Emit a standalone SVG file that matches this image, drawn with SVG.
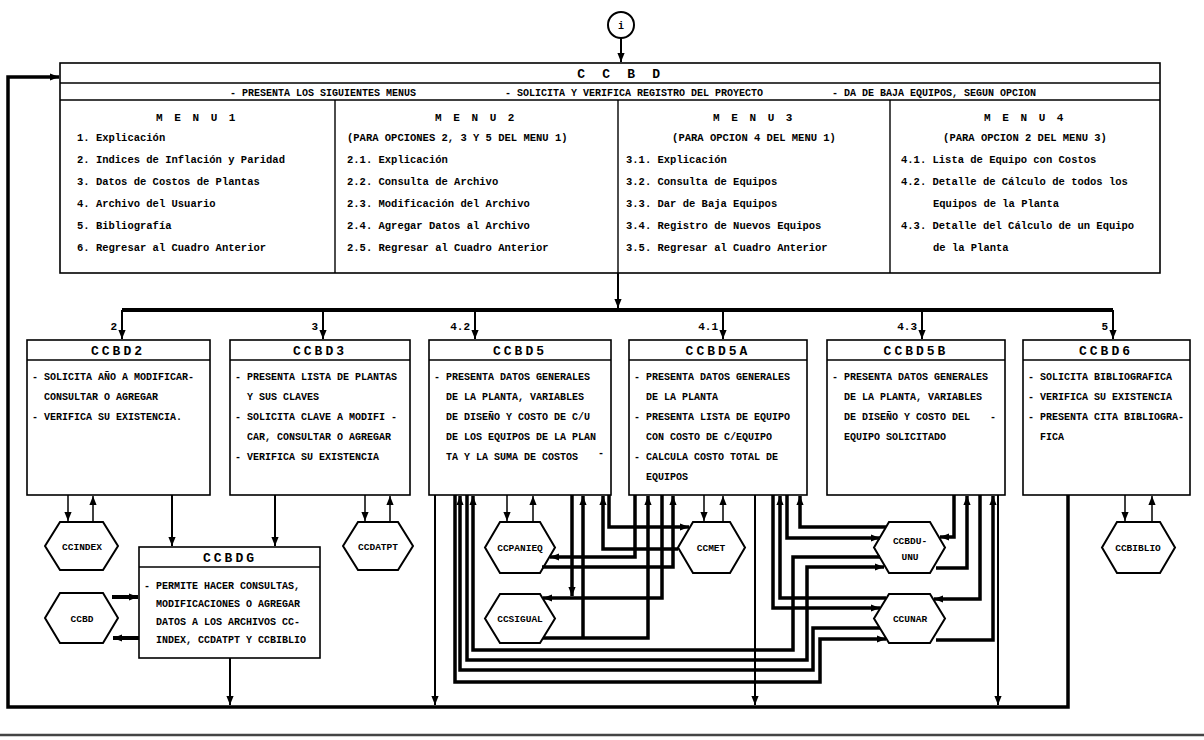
<svg xmlns="http://www.w3.org/2000/svg" width="1204" height="740" viewBox="0 0 1204 740">
<style>
.box{fill:#fff;stroke:#000;stroke-width:1.6}
.hx{fill:#fff;stroke:#000;stroke-width:2}
.t{font-family:"Liberation Mono","DejaVu Sans Mono",monospace;font-weight:bold;font-size:10px;fill:#000}
.m{font-size:10.5px}
.h{font-size:13px;letter-spacing:3px;text-anchor:middle}
.mh{font-size:11px;letter-spacing:2.5px;text-anchor:middle}
.mid{text-anchor:middle}
.end{text-anchor:end}
.hl{font-size:9.5px;text-anchor:middle}
.c{stroke:#000;fill:none;stroke-width:2}
.thin{stroke-width:1.5}
.th{stroke-width:3.5}
.bus{stroke-width:4}
</style>
<defs>
<marker id="ar" markerUnits="userSpaceOnUse" markerWidth="9" markerHeight="9" viewBox="0 0 10 10" refX="10" refY="5" orient="auto">
<path d="M0,1 L10,5 L0,9 z" fill="#000"/>
</marker>
</defs>
<rect width="1204" height="740" fill="#fff"/>

<g id="start">
<circle cx="621" cy="25" r="13" fill="#fff" stroke="#000" stroke-width="2"/>
<text class="t mid" x="621" y="29" font-size="11">i</text>
</g>

<g id="ccbd">
<rect class="box" x="60" y="63" width="1100" height="210"/>
<line x1="60" y1="83" x2="1160" y2="83" stroke="#000" stroke-width="1.4"/>
<line x1="60" y1="100" x2="1160" y2="100" stroke="#000" stroke-width="1.4"/>
<line x1="335" y1="100" x2="335" y2="273" stroke="#000" stroke-width="1.4"/>
<line x1="618" y1="100" x2="618" y2="273" stroke="#000" stroke-width="1.4"/>
<line x1="890" y1="100" x2="890" y2="273" stroke="#000" stroke-width="1.4"/>
<text class="t h" x="621" y="78" style="letter-spacing:4.7px">C C B D</text>
<text class="t" x="230" y="95.5">- PRESENTA LOS SIGUIENTES MENUS</text>
<text class="t" x="505" y="95.5">- SOLICITA Y VERIFICA REGISTRO DEL PROYECTO</text>
<text class="t" x="832" y="95.5">- DA DE BAJA EQUIPOS, SEGUN OPCION</text>
<text class="t mh" x="197" y="121">M E N U 1</text>
<text class="t mh" x="476" y="121">M E N U 2</text>
<text class="t mh" x="754" y="121">M E N U 3</text>
<text class="t mh" x="1025" y="121">M E N U 4</text>
<g class="t m">
<text x="77" y="141">1. Explicación</text>
<text x="77" y="163">2. Indices de Inflación y Paridad</text>
<text x="77" y="185">3. Datos de Costos de Plantas</text>
<text x="77" y="207">4. Archivo del Usuario</text>
<text x="77" y="229">5. Bibliografía</text>
<text x="77" y="251">6. Regresar al Cuadro Anterior</text>
<text x="347" y="141">(PARA OPCIONES 2, 3 Y 5 DEL MENU 1)</text>
<text x="347" y="163">2.1. Explicación</text>
<text x="347" y="185">2.2. Consulta de Archivo</text>
<text x="347" y="207">2.3. Modificación del Archivo</text>
<text x="347" y="229">2.4. Agregar Datos al Archivo</text>
<text x="347" y="251">2.5. Regresar al Cuadro Anterior</text>
<text x="754" y="141" text-anchor="middle">(PARA OPCION 4 DEL MENU 1)</text>
<text x="626" y="163">3.1. Explicación</text>
<text x="626" y="185">3.2. Consulta de Equipos</text>
<text x="626" y="207">3.3. Dar de Baja Equipos</text>
<text x="626" y="229">3.4. Registro de Nuevos Equipos</text>
<text x="626" y="251">3.5. Regresar al Cuadro Anterior</text>
<text x="1025" y="141" text-anchor="middle">(PARA OPCION 2 DEL MENU 3)</text>
<text x="901" y="163">4.1. Lista de Equipo con Costos</text>
<text x="901" y="185">4.2. Detalle de Cálculo de todos los</text>
<text x="933" y="207">Equipos de la Planta</text>
<text x="901" y="229">4.3. Detalle del Cálculo de un Equipo</text>
<text x="933" y="251">de la Planta</text>
</g>
</g>

<g id="ccbd2">
<rect class="box" x="27" y="340" width="183" height="155"/>
<line x1="27" y1="360" x2="210" y2="360" stroke="#000" stroke-width="1.4"/>
<text class="t h" x="118" y="355">CCBD2</text>
<text class="t" x="32" y="379.5">- SOLICITA AÑO A MODIFICAR-</text>
<text class="t" x="44" y="399.5">CONSULTAR O AGREGAR</text>
<text class="t" x="32" y="419.5">- VERIFICA SU EXISTENCIA.</text>
</g>

<g id="ccbd3">
<rect class="box" x="230" y="340" width="180" height="155"/>
<line x1="230" y1="360" x2="410" y2="360" stroke="#000" stroke-width="1.4"/>
<text class="t h" x="320" y="355">CCBD3</text>
<text class="t" x="235" y="379.5">- PRESENTA LISTA DE PLANTAS</text>
<text class="t" x="247" y="399.5">Y SUS CLAVES</text>
<text class="t" x="235" y="419.5">- SOLICITA CLAVE A MODIFI -</text>
<text class="t" x="247" y="439.5">CAR, CONSULTAR O AGREGAR</text>
<text class="t" x="235" y="459.5">- VERIFICA SU EXISTENCIA</text>
</g>

<g id="ccbd5">
<rect class="box" x="429" y="340" width="182" height="155"/>
<line x1="429" y1="360" x2="611" y2="360" stroke="#000" stroke-width="1.4"/>
<text class="t h" x="520" y="355">CCBD5</text>
<text class="t" x="434" y="379.5">- PRESENTA DATOS GENERALES</text>
<text class="t" x="446" y="399.5">DE LA PLANTA, VARIABLES</text>
<text class="t" x="446" y="419.5">DE DISEÑO Y COSTO DE C/U</text>
<text class="t" x="446" y="439.5">DE LOS EQUIPOS DE LA PLAN</text>
<text class="t" x="446" y="459.5">TA Y LA SUMA DE COSTOS</text>
<text class="t" x="598" y="456">-</text>
</g>

<g id="ccbd5a">
<rect class="box" x="629" y="340" width="178" height="155"/>
<line x1="629" y1="360" x2="807" y2="360" stroke="#000" stroke-width="1.4"/>
<text class="t h" x="718" y="355">CCBD5A</text>
<text class="t" x="634" y="379.5">- PRESENTA DATOS GENERALES</text>
<text class="t" x="646" y="399.5">DE LA PLANTA</text>
<text class="t" x="634" y="419.5">- PRESENTA LISTA DE EQUIPO</text>
<text class="t" x="646" y="439.5">CON COSTO DE C/EQUIPO</text>
<text class="t" x="634" y="459.5">- CALCULA COSTO TOTAL DE</text>
<text class="t" x="646" y="479.5">EQUIPOS</text>
</g>

<g id="ccbd5b">
<rect class="box" x="827" y="340" width="178" height="155"/>
<line x1="827" y1="360" x2="1005" y2="360" stroke="#000" stroke-width="1.4"/>
<text class="t h" x="916" y="355">CCBD5B</text>
<text class="t" x="832" y="379.5">- PRESENTA DATOS GENERALES</text>
<text class="t" x="844" y="399.5">DE LA PLANTA, VARIABLES</text>
<text class="t" x="844" y="419.5">DE DISEÑO Y COSTO DEL</text>
<text class="t" x="990" y="419.5">-</text>
<text class="t" x="844" y="439.5">EQUIPO SOLICITADO</text>
</g>

<g id="ccbd6">
<rect class="box" x="1023" y="340" width="167" height="155"/>
<line x1="1023" y1="360" x2="1190" y2="360" stroke="#000" stroke-width="1.4"/>
<text class="t h" x="1106" y="355">CCBD6</text>
<text class="t" x="1028" y="379.5">- SOLICITA BIBLIOGRAFICA</text>
<text class="t" x="1028" y="399.5">- VERIFICA SU EXISTENCIA</text>
<text class="t" x="1028" y="419.5">- PRESENTA CITA BIBLIOGRA-</text>
<text class="t" x="1040" y="439.5">FICA</text>
</g>

<g id="ccbdg">
<rect class="box" x="139" y="547" width="181" height="111"/>
<line x1="139" y1="567" x2="320" y2="567" stroke="#000" stroke-width="1.4"/>
<text class="t h" x="230" y="562">CCBDG</text>
<text class="t" x="144" y="588.5">- PERMITE HACER CONSULTAS,</text>
<text class="t" x="156" y="606.5">MODIFICACIONES O AGREGAR</text>
<text class="t" x="156" y="624.5">DATOS A LOS ARCHIVOS CC-</text>
<text class="t" x="156" y="642.5">INDEX, CCDATPT Y CCBIBLIO</text>
</g>

<g id="ccindex">
<polygon class="hx" points="45,546 60,522 103,522 118,546 103,570 60,570"/>
<text class="t hl" x="82" y="549.5">CCINDEX</text>
</g>
<g id="ccbd-file">
<polygon class="hx" points="45,618 60,593 103,593 118,618 103,643 60,643"/>
<text class="t hl" x="82" y="621.5">CCBD</text>
</g>
<g id="ccdatpt">
<polygon class="hx" points="343,546 358,522 398,522 413,546 398,570 358,570"/>
<text class="t hl" x="378" y="549.5">CCDATPT</text>
</g>
<g id="ccpanieq">
<polygon class="hx" points="485,547.5 500,522 540,522 555,547.5 540,573 500,573"/>
<text class="t hl" x="520" y="551">CCPANIEQ</text>
</g>
<g id="ccsigual">
<polygon class="hx" points="485,618.5 500,594 540,594 555,618.5 540,643 500,643"/>
<text class="t hl" x="520" y="622">CCSIGUAL</text>
</g>
<g id="ccmet">
<polygon class="hx" points="678,547.5 693,522 730,522 745,547.5 730,573 693,573"/>
<text class="t hl" x="711" y="551">CCMET</text>
</g>
<g id="ccbdu">
<polygon class="hx" points="874,547.5 889,522 930,522 945,547.5 930,573 889,573"/>
<text class="t hl" x="910" y="544">CCBDU-</text>
<text class="t hl" x="910" y="560">UNU</text>
</g>
<g id="ccunar">
<polygon class="hx" points="874,618.5 889,594 930,594 945,618.5 930,643 889,643"/>
<text class="t hl" x="910" y="622">CCUNAR</text>
</g>
<g id="ccbiblio">
<polygon class="hx" points="1102,547.5 1117,522 1160,522 1175,547.5 1160,573 1117,573"/>
<text class="t hl" x="1138" y="551">CCBIBLIO</text>
</g>

<g id="labels" class="t">
<text class="end" x="117" y="330" font-size="11">2</text>
<text class="end" x="318" y="330" font-size="11">3</text>
<text class="end" x="470" y="330" font-size="11">4.2</text>
<text class="end" x="718" y="330" font-size="11">4.1</text>
<text class="end" x="917" y="330" font-size="11">4.3</text>
<text class="end" x="1108" y="330" font-size="11">5</text>
</g>

<g id="connectors">
<path class="c" d="M621 38 V62" marker-end="url(#ar)"/>
<path class="c th" d="M1068 495 V707 H8 V77 H59" marker-end="url(#ar)"/>
<path class="c" d="M618 273 V308" marker-end="url(#ar)"/>
<path class="c bus" d="M122 310 H1113"/>
<path class="c" d="M122 310 V339" marker-end="url(#ar)"/>
<path class="c" d="M323 310 V339" marker-end="url(#ar)"/>
<path class="c" d="M475 310 V339" marker-end="url(#ar)"/>
<path class="c" d="M723 310 V339" marker-end="url(#ar)"/>
<path class="c" d="M922 310 V339" marker-end="url(#ar)"/>
<path class="c" d="M1113 310 V339" marker-end="url(#ar)"/>

<path class="c thin" d="M68 495 V521" marker-end="url(#ar)"/>
<path class="c thin" d="M93 522 V496" marker-end="url(#ar)"/>
<path class="c" d="M172 495 V546" marker-end="url(#ar)"/>
<path class="c" d="M275 495 V546" marker-end="url(#ar)"/>
<path class="c thin" d="M365 495 V521" marker-end="url(#ar)"/>
<path class="c thin" d="M390 522 V496" marker-end="url(#ar)"/>
<path class="c bus" d="M112 597 H138" marker-end="url(#ar)"/>
<path class="c bus" d="M139 638 H113" marker-end="url(#ar)"/>
<path class="c" d="M230 658 V705" marker-end="url(#ar)"/>
<path class="c" d="M435 495 V705" marker-end="url(#ar)"/>
<path class="c" d="M755 495 V705" marker-end="url(#ar)"/>
<path class="c" d="M998 495 V705" marker-end="url(#ar)"/>

<path class="c thin" d="M507 495 V521" marker-end="url(#ar)"/>
<path class="c thin" d="M533 522 V496" marker-end="url(#ar)"/>
<path class="c thin" d="M704 495 V521" marker-end="url(#ar)"/>
<path class="c thin" d="M723 522 V496" marker-end="url(#ar)"/>
<path class="c thin" d="M1125 495 V521" marker-end="url(#ar)"/>
<path class="c thin" d="M1152 522 V496" marker-end="url(#ar)"/>

<path class="c th" d="M609 495 V527 H689" marker-end="url(#ar)"/>
<path class="c th" d="M678 549 H603 V496" marker-end="url(#ar)"/>
<path class="c th" d="M635 495 V557 H550" marker-end="url(#ar)"/>
<path class="c th" d="M542 567 H673 V496" marker-end="url(#ar)"/>
<path class="c th" d="M662 495 V598 H543" marker-end="url(#ar)"/>
<path class="c th" d="M572 495 V596" marker-end="url(#ar)"/>
<path class="c th" d="M543 638 H648 V496" marker-end="url(#ar)"/>
<path class="c th" d="M583 638 V496" marker-end="url(#ar)"/>

<path class="c th" d="M880 557 H793 V650 H473 V496" marker-end="url(#ar)"/>
<path class="c th" d="M467 495 V660 H807 V567 H884" marker-end="url(#ar)"/>
<path class="c th" d="M880 628 H813 V670 H460 V496" marker-end="url(#ar)"/>
<path class="c th" d="M455 495 V682 H820 V639 H886" marker-end="url(#ar)"/>

<path class="c th" d="M886 527 H800 V496" marker-end="url(#ar)"/>
<path class="c th" d="M787 495 V538 H880" marker-end="url(#ar)"/>
<path class="c th" d="M886 598 H780 V496" marker-end="url(#ar)"/>
<path class="c th" d="M773 495 V608 H880" marker-end="url(#ar)"/>

<path class="c th" d="M954 495 V537 H940" marker-end="url(#ar)"/>
<path class="c th" d="M936 568 H967 V496" marker-end="url(#ar)"/>
<path class="c th" d="M980 495 V599 H934" marker-end="url(#ar)"/>
<path class="c th" d="M936 640 H993 V496" marker-end="url(#ar)"/>
</g>

<line x1="0" y1="735" x2="1204" y2="735" stroke="#444" stroke-width="2.5"/>
</svg>
